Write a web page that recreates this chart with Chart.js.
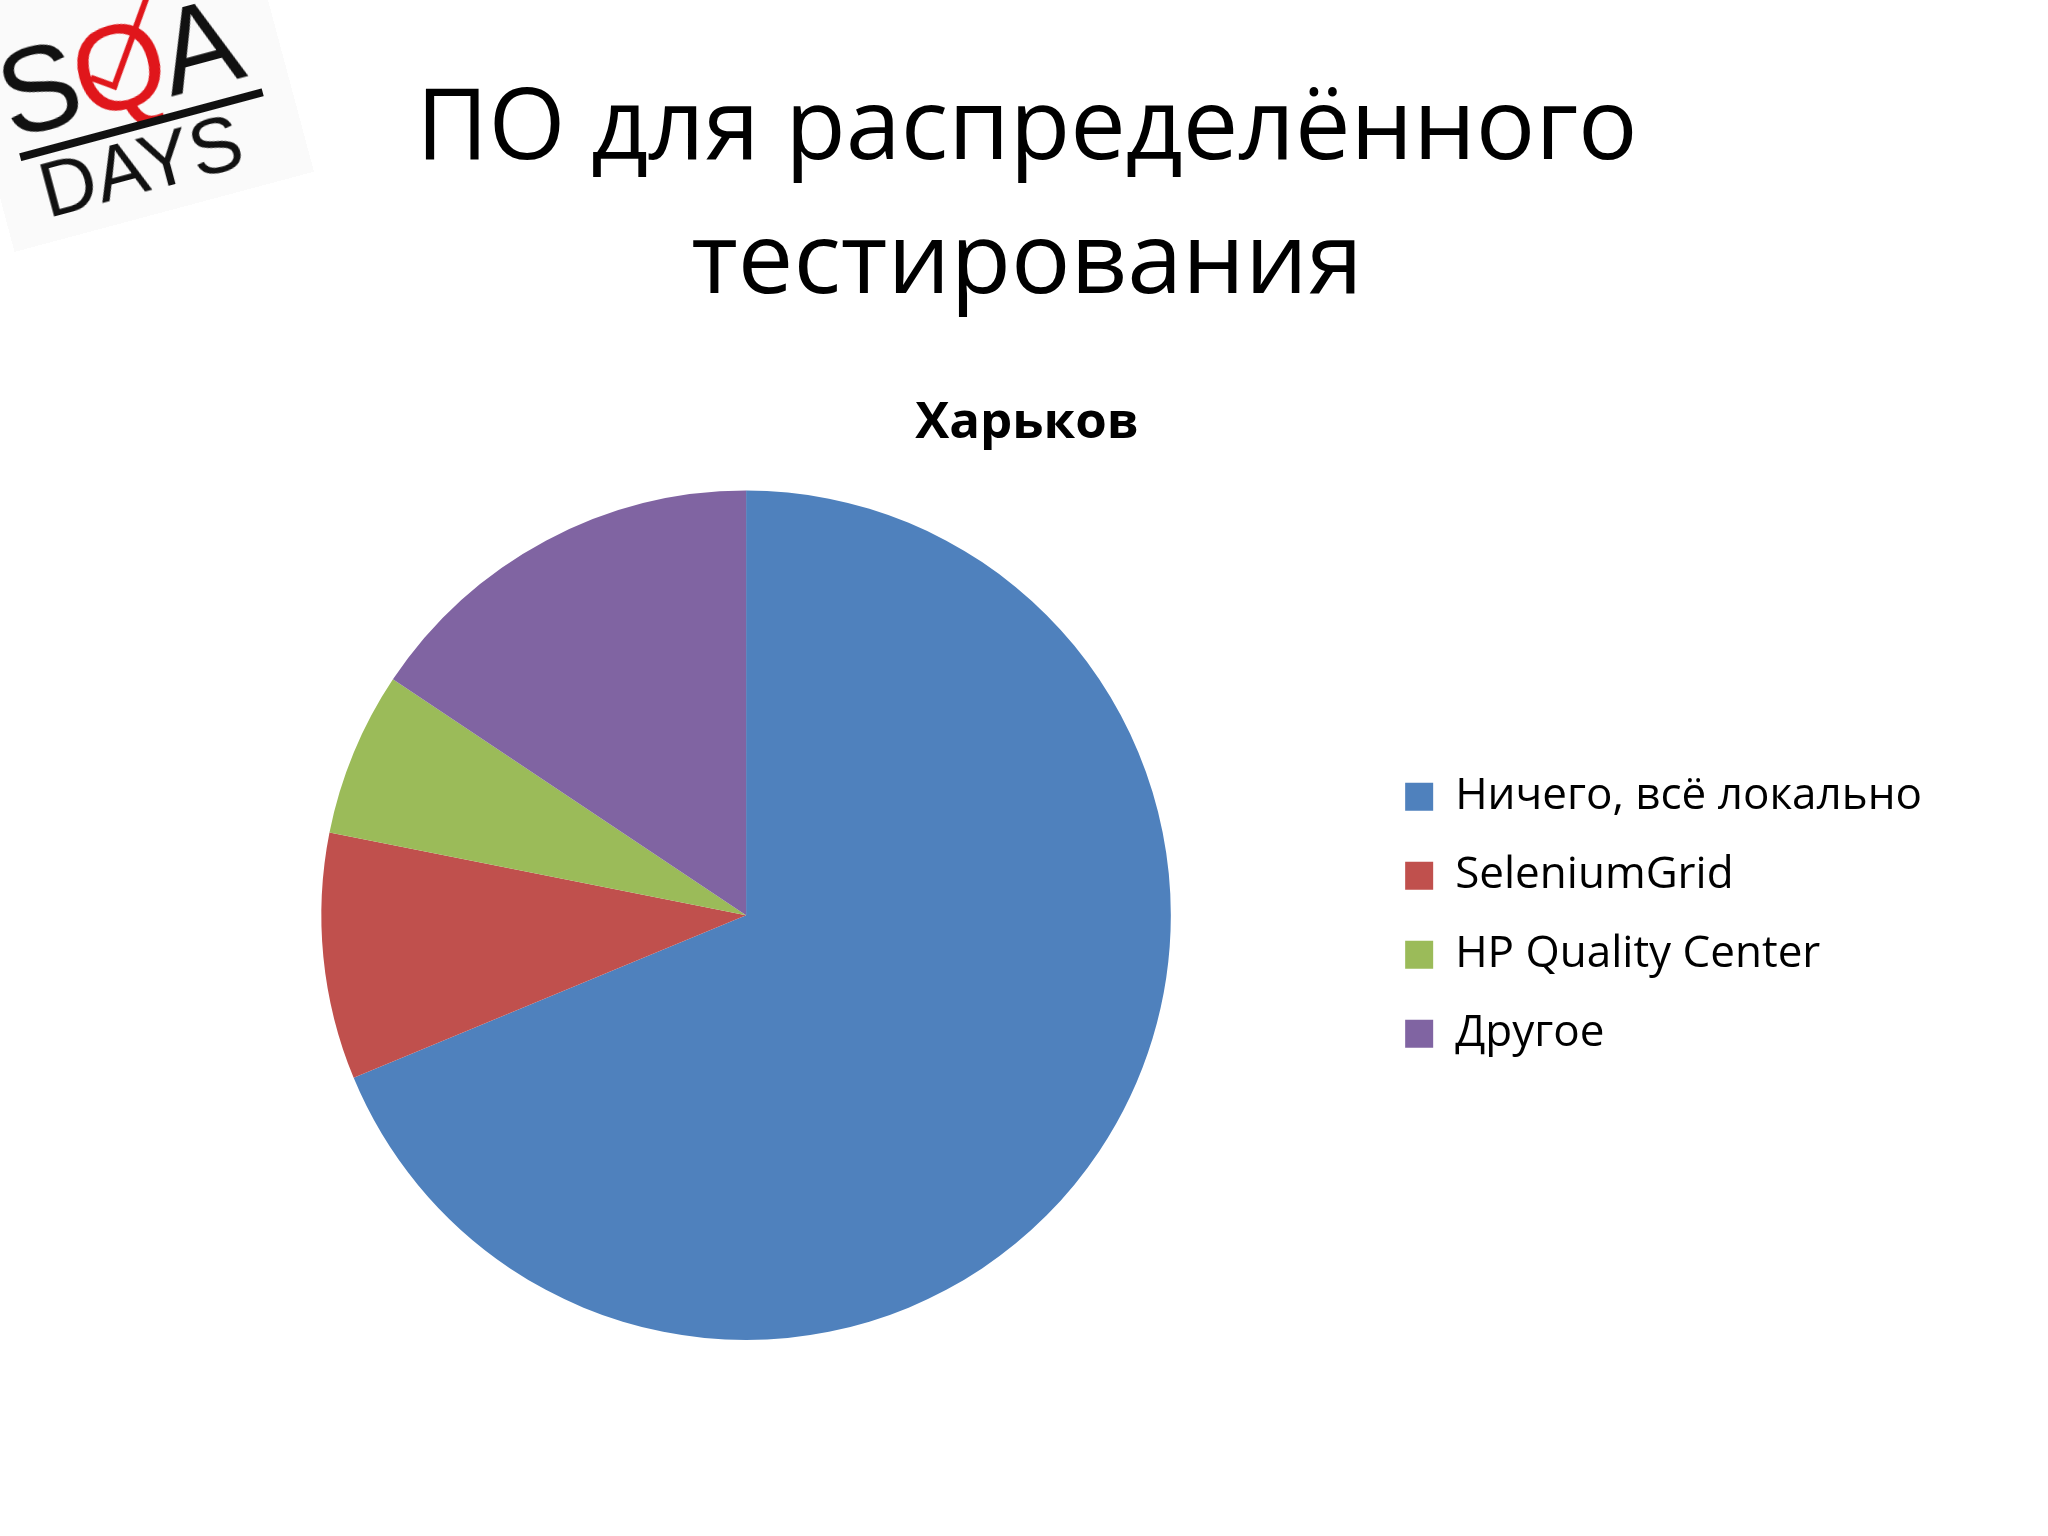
<!DOCTYPE html>
<html>
<head>
<meta charset="utf-8">
<script src="https://cdn.jsdelivr.net/npm/chart.js@4"></script>
<style>
    html, body { margin: 0; padding: 0; background: #fff; }
    #wrap { position: relative; width: 2048px; height: 1536px; overflow: hidden; }
    #pie { position: absolute; left: 0; top: 0; }
    /* logo top-left, tilted */
    .logo { position: absolute; left: -16px; top: 22px; width: 280px; height: 230px; transform: rotate(-15deg); transform-origin: 0 0;
        font-family: "Liberation Sans", sans-serif; color: #111; }
    .logo .bg { position: absolute; left: -30px; top: -20px; width: 310px; height: 250px; background: #fafafa; }
    .logo .top { position: absolute; left: -4px; top: 18px; font-size: 120px; line-height: 1; letter-spacing: -4px; }
    .logo .top .q { color: #e0161b; }
    .logo .tick { position: absolute; left: 110px; top: 72px; width: 90px; height: 22px; border-left: 6px solid #e0161b; border-bottom: 6px solid #e0161b;
        transform: rotate(-55deg); transform-origin: left bottom; }
    .logo .bar { position: absolute; left: 0; top: 136px; width: 251px; height: 8px; background: #111; }
    .logo .bot { position: absolute; left: 11px; top: 140px; font-size: 78px; line-height: 1; }
</style>
</head>
<body>
<div id="wrap">
    <canvas id="pie" width="2048" height="1536"></canvas>
    <div class="logo">
        <div class="bg"></div>
        <div class="top">S<span class="q">Q</span>A</div>
        <div class="tick"></div>
        <div class="bar"></div>
        <div class="bot">DAYS</div>
    </div>
</div>
<script>
// data
const slideTitle = ['ПО для распределённого', 'тестирования'];
const chartTitle = 'Харьков';
const labels = ['Ничего, всё локально', 'SeleniumGrid', 'HP Quality Center', 'Другое'];
const answers = [22, 3, 2, 5];
const colors = ['#4f81bd', '#c0504d', '#9bbb59', '#8064a2'];

const canvas = document.getElementById('pie');
canvas.style.width = '2048px';
canvas.style.height = '1536px';

new Chart(canvas, {
    type: 'pie',
    data: {
        labels: labels,
        datasets: [{ data: answers, backgroundColor: colors, borderWidth: 0 }]
    },
    options: {
        responsive: false,
        animation: false,
        layout: { padding: { left: 122, right: 116, top: 0, bottom: 196 } },
        plugins: {
            title: {
                display: true,
                text: slideTitle,
                color: '#000',
                font: { family: 'Open Sans', size: 99, weight: 'normal', lineHeight: 1.35 },
                padding: { top: 64, bottom: 0 }
            },
            subtitle: {
                display: true,
                text: chartTitle,
                color: '#000',
                font: { family: 'Open Sans', size: 51, weight: 'bold', lineHeight: 1.2 },
                padding: { top: 62, bottom: 36 }
            },
            legend: {
                position: 'right',
                fullSize: false,
                labels: {
                    boxWidth: 28,
                    boxHeight: 28,
                    padding: 35,
                    color: '#000',
                    font: { family: 'Open Sans', size: 44 }
                }
            },
            tooltip: { enabled: false }
        }
    }
});
</script>
</body>
</html>
